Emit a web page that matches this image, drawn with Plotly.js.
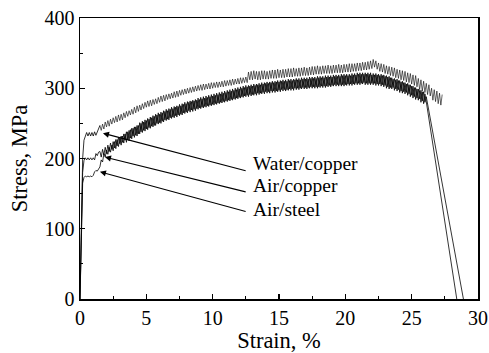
<!DOCTYPE html>
<html>
<head>
<meta charset="utf-8">
<script src="https://cdn.plot.ly/plotly-3.0.1.min.js"></script>
<style>html,body{margin:0;padding:0;background:#fff;}#chart{width:489px;height:353px;}</style>
</head>
<body>
<div id="chart"></div>
<script>
// ---- data ----
var seriesNames = ["Water/copper", "Air/copper", "Air/steel"];

// elastic rise + first yield plateau (strain %)
var headStrain = [0, 0.1, 0.2, 0.3, 0.4, 0.5, 0.6, 0.7, 0.8, 0.9, 1.0, 1.1, 1.2, 1.3, 1.4, 1.5];
var waterHeadStress  = [0, 110, 200, 226, 233, 237, 232, 237, 232, 237, 232, 238, 233, 238, 244, 247];
var copperHeadStress = [0, 100, 180, 197, 201, 198, 201, 198, 201, 198, 201, 198, 207, 204, 209, 210];
var steelHeadStress  = [0, 95, 165, 173, 175, 174, 175, 174, 175, 174, 176, 181, 183, 182, 186, 188];

// serrated flow region, sampled every 0.1 % strain starting at 1.5 %
var bodyStart = 1.5, bodyStep = 0.1;
var waterBodyStress = [
 247,240,249,242,252,245,254,246,256,249,
 258,251,260,252,262,254,263,255,265,258,
 267,260,268,262,270,263,273,265,275,267,
 276,269,278,271,280,273,282,274,283,275,
 284,277,285,278,287,280,289,281,290,282,
 291,284,292,285,293,286,295,287,296,288,
 297,290,298,291,299,292,300,293,301,294,
 302,295,303,296,304,297,305,297,306,298,
 306,299,307,299,308,300,308,301,309,301,
 309,302,310,302,311,303,311,304,312,304,
 313,305,313,306,314,306,315,307,315,308,
 316,308,323,312,324,312,325,313,324,312,
 324,312,325,313,325,313,324,313,325,314,
 326,314,326,314,327,315,326,315,327,315,
 327,316,328,316,328,316,329,317,328,317,
 329,317,329,318,330,318,329,318,330,319,
 331,319,331,320,332,320,331,320,332,321,
 332,321,333,321,332,321,333,322,333,322,
 334,322,333,322,334,323,334,323,335,323,
 335,324,335,324,336,325,336,325,337,326,
 337,326,338,327,339,328,341,330,339,327,
 336,324,335,323,334,321,332,320,331,318,
 330,317,329,315,327,314,326,312,325,311,
 324,309,322,308,321,306,319,304,318,302,
 314,298,312,296,310,294,307,291,305,289,
 300,283,298,281,296,278,293,276,291
];
var copperBodyStress = [
 210,202,213,205,216,207,219,210,222,213,
 224,215,227,218,230,221,232,223,235,226,
 238,227,240,229,243,232,245,233,247,235,
 251,238,253,240,255,242,257,244,259,246,
 261,247,263,250,265,251,266,253,268,255,
 270,256,271,258,273,259,274,261,275,262,
 277,263,278,265,280,266,281,268,282,269,
 283,270,284,271,286,272,287,273,288,274,
 289,275,290,276,291,277,292,278,293,279,
 294,280,295,281,296,282,297,283,298,284,
 299,285,300,286,301,287,302,288,303,289,
 304,290,304,291,305,291,306,292,306,293,
 307,293,308,294,308,295,309,295,309,296,
 310,296,310,296,311,297,311,298,312,298,
 312,298,313,299,313,299,313,300,314,300,
 314,300,315,301,315,301,315,301,316,302,
 316,302,316,302,317,302,317,303,317,303,
 318,303,318,304,318,304,319,305,319,305,
 319,305,320,305,320,305,320,306,320,306,
 321,306,321,307,322,307,322,307,322,308,
 322,307,322,307,322,307,321,307,321,306,
 320,306,320,305,319,304,318,302,317,301,
 315,301,314,299,313,298,311,296,310,295,
 308,294,307,292,305,290,303,288,301,286,
 299,285,297,282,295,280,288
];
var steelBodyStress = [
 188,198,195,207,202,212,206,216,209,219,
 211,224,214,227,217,230,219,232,222,235,
 223,238,225,241,228,243,230,245,232,247,
 235,250,237,252,239,254,241,256,243,258,
 245,260,247,262,249,263,250,265,252,267,
 254,268,255,270,257,271,258,273,259,274,
 261,275,262,277,264,278,265,280,266,281,
 267,282,268,283,270,284,271,285,272,286,
 273,287,274,288,275,289,276,290,277,291,
 278,292,279,293,280,294,281,295,282,296,
 283,297,284,298,285,299,286,300,287,301,
 288,302,288,303,289,303,290,304,290,305,
 291,305,292,306,292,307,293,307,293,308,
 294,308,294,309,295,309,295,310,296,310,
 296,310,297,311,297,311,297,312,298,312,
 298,312,299,313,299,313,299,313,300,314,
 300,314,300,314,300,315,301,315,301,315,
 301,316,302,316,302,316,303,317,303,317,
 303,317,303,318,303,318,304,318,304,318,
 304,319,305,319,305,320,305,320,306,320,
 305,320,305,320,305,319,305,319,304,319,
 304,318,303,318,302,317,300,316,299,315,
 299,313,297,312,296,311,294,309,293,308,
 292,306,290,305,288,303,286,301,284,299,
 283,297,280,295,278,292,281
];

// final fracture drop
var copperTailStrain = [26.1, 28.9];
var copperTailStress = [288, 0];
var steelTailStrain  = [26.1, 28.4];
var steelTailStress  = [281, 0];

// axis ticks
var xTicks = [0, 5, 10, 15, 20, 25, 30];
var yTicks = [0, 100, 200, 300, 400];

// labels with arrows
var labelText = ["Water/copper", "Air/copper", "Air/steel"];
var headX = [1.73, 1.88, 1.5];
var headY = [236, 202, 181];
var tailX = [12.6, 12.6, 12.6];
var tailY = [182, 152, 124];
var textX = [12.9, 12.9, 12.9];
var textY = [193, 161, 127];

// ---- traces ----
function bodyTrace(y, w) {
  return {type: "scatter", mode: "lines", x0: bodyStart, dx: bodyStep, y: y,
          line: {color: "#000", width: w}, showlegend: false, hoverinfo: "skip"};
}
function xyTrace(x, y) {
  return {type: "scatter", mode: "lines", x: x, y: y,
          line: {color: "#000", width: 0.8}, showlegend: false, hoverinfo: "skip"};
}
var traces = [
  xyTrace(headStrain, waterHeadStress),
  bodyTrace(waterBodyStress, 0.6),
  xyTrace(headStrain, copperHeadStress),
  bodyTrace(copperBodyStress, 0.8),
  xyTrace(copperTailStrain, copperTailStress),
  xyTrace(headStrain, steelHeadStress),
  bodyTrace(steelBodyStress, 0.8),
  xyTrace(steelTailStrain, steelTailStress)
];

var font = "'Liberation Serif', 'Times New Roman', serif";
var annotations = [];
for (var i = 0; i < labelText.length; i++) {
  annotations.push({
    x: headX[i], y: headY[i], xref: "x", yref: "y",
    ax: tailX[i], ay: tailY[i], axref: "x", ayref: "y",
    text: "", showarrow: true, arrowhead: 2, arrowsize: 1.1, arrowwidth: 1.1, arrowcolor: "#000"
  });
  annotations.push({
    x: textX[i], y: textY[i], xref: "x", yref: "y",
    text: labelText[i], showarrow: false, xanchor: "left", yanchor: "middle",
    font: {family: font, size: 19.5, color: "#000"}
  });
}

var axisCommon = {
  showgrid: false, zeroline: false, showline: true, mirror: true,
  linecolor: "#000", linewidth: 1.5,
  ticks: "inside", ticklen: 5, tickwidth: 1.3, tickcolor: "#000",
  tickfont: {family: font, size: 20, color: "#000"}
};

var layout = {
  width: 489, height: 353,
  margin: {l: 80, r: 11, t: 18, b: 54},
  paper_bgcolor: "#fff", plot_bgcolor: "#fff",
  showlegend: false,
  font: {family: font, color: "#000"},
  xaxis: Object.assign({}, axisCommon, {
    range: [0, 30], tickvals: xTicks, ticktext: xTicks.map(String),
    minor: {ticks: "inside", ticklen: 3, tickwidth: 1.2, tickcolor: "#000", dtick: 2.5, tick0: 0},
    title: {text: "Strain, %", font: {family: font, size: 22.5, color: "#000"}, standoff: 4}
  }),
  yaxis: Object.assign({}, axisCommon, {
    range: [0, 400], tickvals: yTicks, ticktext: yTicks.map(String),
    minor: {ticks: "inside", ticklen: 3, tickwidth: 1.2, tickcolor: "#000", dtick: 50, tick0: 0},
    title: {text: "Stress, MPa", font: {family: font, size: 22.5, color: "#000"}, standoff: 10}
  }),
  annotations: annotations
};

Plotly.newPlot("chart", traces, layout, {staticPlot: true, displayModeBar: false});
</script>
</body>
</html>
